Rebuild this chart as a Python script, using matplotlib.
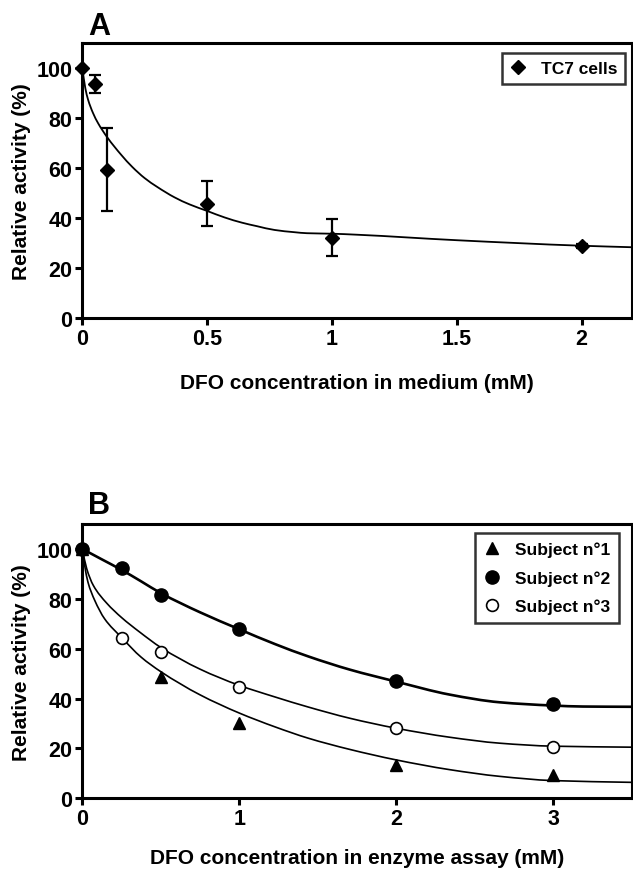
import matplotlib
matplotlib.use("Agg")
import matplotlib.pyplot as plt
from matplotlib import font_manager
from matplotlib.path import Path
from matplotlib.patches import PathPatch

# ---------------- data ----------------
# Panel A: TC7 cells
a_x = [0, 0.05, 0.1, 0.5, 1.0, 2.0]
a_y = [100, 93.6, 59.3, 45.8, 32.2, 28.8]
a_err = [0, 3.5, 16.6, 9.0, 7.5, 0.8]
# fitted curve A
a_fit_x = [0, 0.012, 0.023, 0.043, 0.063, 0.1, 0.156, 0.2, 0.25, 0.3, 0.37, 0.43,
           0.5, 0.57, 0.64, 0.7, 0.77, 0.85, 0.9, 1.0, 1.1, 1.5, 2.0, 2.2]
a_fit_y = [100, 92, 87.4, 82, 78, 72.3, 65.3, 60.5, 56.0, 52.5, 48.3, 45.5,
           42.9, 40.3, 38.2, 36.8, 35.3, 34.4, 34.0, 33.8, 33.4, 31.2, 29.0, 28.4]

# Panel B: enzyme assay
s1_x = [0, 0.5, 1, 2, 3]
s1_y = [100, 48.7, 30.3, 13.4, 9.4]
s2_x = [0, 0.25, 0.5, 1, 2, 3]
s2_y = [100, 92.5, 81.7, 67.9, 47.2, 37.7]
s3_x = [0, 0.25, 0.5, 1, 2, 3]
s3_y = [100, 64.2, 58.8, 44.7, 28.3, 20.5]

s1_fit_x = [0, 0.015, 0.036, 0.079, 0.142, 0.25, 0.375, 0.5, 0.75, 1.0, 1.23, 1.44,
            1.705, 2.0, 2.34, 2.66, 3.0, 3.5]
s1_fit_y = [100, 93.4, 86.7, 79.4, 72, 64.5, 56.6, 50.8, 41.5, 34.2, 28.6, 24.1,
            19.6, 15.4, 11.5, 8.8, 7.1, 6.4]
s2_fit_x = [0, 0.125, 0.25, 0.375, 0.5, 0.75, 1.0, 1.23, 1.44, 1.705, 2.0, 2.34,
            2.66, 3.0, 3.19, 3.5]
s2_fit_y = [100, 95.8, 91.6, 87.0, 82.3, 74.6, 67.8, 61.8, 56.9, 51.6, 46.8, 41.6,
            38.5, 37.2, 36.8, 36.7]
s3_fit_x = [0, 0.028, 0.07, 0.155, 0.25, 0.367, 0.5, 0.75, 1.0, 1.23, 1.44, 1.705,
            2.0, 2.34, 2.66, 3.0, 3.5]
s3_fit_y = [100, 92.1, 85.4, 78.3, 72.5, 66.6, 60.5, 51.8, 45.3, 40.6, 36.6, 32.1,
            28.1, 24.5, 22.1, 20.9, 20.5]

a_xticks = [0, 0.5, 1, 1.5, 2]
a_xticklabels = ["0", "0.5", "1", "1.5", "2"]
b_xticks = [0, 1, 2, 3]
b_xticklabels = ["0", "1", "2", "3"]
yticks = [0, 20, 40, 60, 80, 100]

# ---------------- style ----------------
names = {f.name for f in font_manager.fontManager.ttflist}
fam = ["Liberation Sans Narrow", "Liberation Sans", "DejaVu Sans"]
fam = [f for f in fam if f in names] + ["DejaVu Sans"]
plt.rcParams["font.family"] = fam
plt.rcParams["font.weight"] = "bold"

W, H = 633, 870
fig = plt.figure(figsize=(W / 100, H / 100), dpi=100)


def frac(left, top, right, bottom):
    return [left / W, 1 - bottom / H, (right - left) / W, (bottom - top) / H]


axA = fig.add_axes(frac(82.3, 44, 631.5, 319.3))
axB = fig.add_axes(frac(82.3, 525, 631.5, 799.3))


def smooth_curve(ax, xs, ys, lw):
    """Draw a smooth (monotone cubic Bezier) curve through the read points."""
    n = len(xs)
    h = [xs[i + 1] - xs[i] for i in range(n - 1)]
    d = [(ys[i + 1] - ys[i]) / h[i] for i in range(n - 1)]
    m = [0.0] * n
    m[0] = d[0]
    m[-1] = d[-1]
    for i in range(1, n - 1):
        if d[i - 1] * d[i] <= 0:
            m[i] = 0.0
        else:
            w1 = 2 * h[i] + h[i - 1]
            w2 = h[i] + 2 * h[i - 1]
            m[i] = (w1 + w2) / (w1 / d[i - 1] + w2 / d[i])
    verts = [(xs[0], ys[0])]
    codes = [Path.MOVETO]
    for i in range(n - 1):
        verts += [(xs[i] + h[i] / 3, ys[i] + m[i] * h[i] / 3),
                  (xs[i + 1] - h[i] / 3, ys[i + 1] - m[i + 1] * h[i] / 3),
                  (xs[i + 1], ys[i + 1])]
        codes += [Path.CURVE4] * 3
    ax.add_patch(PathPatch(Path(verts, codes), fill=False, edgecolor="black",
                           lw=lw, zorder=2, capstyle="butt"))


def style(ax):
    for s in ax.spines.values():
        s.set_linewidth(2.2)
        s.set_color("black")
    ax.tick_params(direction="out", length=5, width=2.2, labelsize=15.5,
                   top=False, right=False, pad=2)
    ax.set_ylim(0, 110)
    ax.set_yticks(yticks)
    ax.set_yticklabels([str(v) for v in yticks], fontweight="bold")
    ax.set_ylabel("Relative activity (%)", fontsize=15, fontweight="bold", labelpad=4)


# Panel A
axA.errorbar(a_x, a_y, yerr=a_err, fmt="none", ecolor="black", elinewidth=1.6,
             capsize=4.5, capthick=1.6, zorder=3)
smooth_curve(axA, a_fit_x, a_fit_y, 1.3)
axA.plot(a_x, a_y, "D", color="black", markersize=7.5, zorder=4, clip_on=False,
         linestyle="none", label="TC7 cells")
axA.set_xlim(0, 2.2)
axA.set_xticks(a_xticks)
axA.set_xticklabels(a_xticklabels, fontweight="bold")
style(axA)
axA.set_xlabel("DFO concentration in medium (mM)", fontsize=15, fontweight="bold",
               labelpad=17)
legA = axA.legend(loc="upper right", bbox_to_anchor=(0.988, 0.962), frameon=True,
                  fancybox=False, edgecolor="black", prop={"size": 12.5, "weight": "bold"},
                  handlelength=1.0, handletextpad=0.8, borderpad=0.45, borderaxespad=0)
legA.get_frame().set_linewidth(1.8)
fig.text(88 / W, 1 - 35 / H, "A", fontsize=22, fontweight="bold", ha="left", va="baseline")

# Panel B
smooth_curve(axB, s2_fit_x, s2_fit_y, 1.9)
smooth_curve(axB, s3_fit_x, s3_fit_y, 1.2)
smooth_curve(axB, s1_fit_x, s1_fit_y, 1.2)
axB.plot(s1_x, s1_y, "^", color="black", markersize=8, zorder=4, clip_on=False,
         linestyle="none", label="Subject n°1")
axB.plot(s2_x, s2_y, "o", color="black", markersize=9.5, zorder=5, clip_on=False,
         linestyle="none", label="Subject n°2")
axB.plot(s3_x, s3_y, "o", markerfacecolor="white", markeredgecolor="black",
         markeredgewidth=1.2, markersize=8.5, zorder=4, clip_on=False,
         linestyle="none", label="Subject n°3")
axB.set_xlim(0, 3.5)
axB.set_xticks(b_xticks)
axB.set_xticklabels(b_xticklabels, fontweight="bold")
style(axB)
axB.set_xlabel("DFO concentration in enzyme assay (mM)", fontsize=15, fontweight="bold",
               labelpad=14)
legB = axB.legend(loc="upper right", bbox_to_anchor=(0.977, 0.967), frameon=True,
                  fancybox=False, edgecolor="black", prop={"size": 12.5, "weight": "bold"},
                  handlelength=1.0, handletextpad=0.8, borderpad=0.5, labelspacing=0.75,
                  borderaxespad=0)
legB.get_frame().set_linewidth(1.8)
fig.text(88 / W, 1 - 514 / H, "B", fontsize=22, fontweight="bold", ha="left", va="baseline")

fig.savefig("out.png", dpi=100)
